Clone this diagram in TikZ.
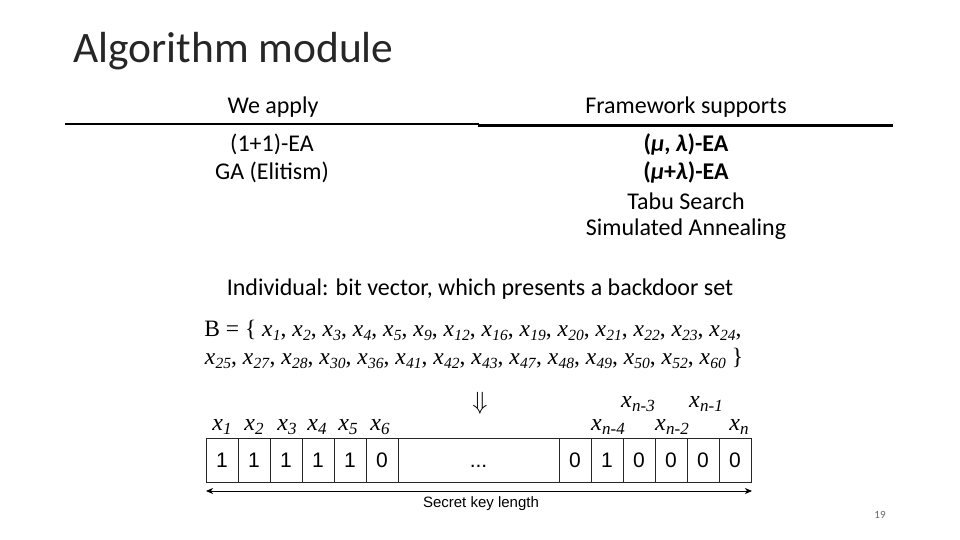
\documentclass[tikz,border=0pt]{standalone}
\usepackage{fontspec}
\setmainfont{Carlito}
\newfontfamily\tnr{Liberation Serif}
\newfontfamily\arl{Liberation Sans}
\usetikzlibrary{arrows.meta}
\newcommand\xsub[2]{\textit{x}\kern0.3pt\raisebox{-0.45ex}{\fontsize{#2}{#2}\selectfont\textit{#1}}}
\newcommand\bx[1]{\xsub{#1}{15.5}}
\newcommand\vx[1]{\xsub{#1}{17}}
\begin{document}
\begin{tikzpicture}[x=1pt,y=-1pt,
  hdr/.style={font=\fontsize{24}{28}\selectfont, inner sep=0pt, anchor=center},
  cell/.style={draw=black!85, line width=0.9pt, minimum width=32pt, minimum height=44pt, inner sep=0pt, text height=15pt, text depth=0pt, font=\arl\fontsize{21}{21}\selectfont},
  lab/.style={font=\tnr\fontsize{24}{24}\selectfont, inner sep=0pt, anchor=base},
  rule/.style={line width=2pt, black}]
\useasboundingbox[fill=white] (0,0) rectangle (960,540);

% title
\node[font=\fontsize{43.5}{46}\selectfont, text=black!85, anchor=base west, inner sep=0pt] (title) at (73,63) {Algorithm module};

% table
\node[hdr] (h1) at (273,107) {We apply};
\node[hdr] (h2) at (686,107) {Framework supports};
\coordinate (l1a) at (65,124.5);
\coordinate (l1b) at (479,124.5);
\coordinate (l2a) at (478,125.5);
\coordinate (l2b) at (893,125.5);
\draw[rule] (l1a) -- (l1b);
\draw[rule, line width=2.6pt] (l2a) -- (l2b);
\node[hdr] (a1) at (272,144) {(1+1)-EA};
\node[hdr] (a2) at (272,172) {GA (Elitism)};
\node[hdr] (b1) at (686,144) {\textbf{(\textit{μ}, \textit{λ})-EA}};
\node[hdr] (b2) at (686,172) {\textbf{(\textit{μ}+\textit{λ})-EA}};
\node[hdr] (b3) at (686,201) {Tabu Search};
\node[hdr] (b4) at (686,229) {Simulated Annealing};

% individual
\node[hdr] (ind) at (480,289) {Individual: bit vector, which presents a backdoor set};
\node[font=\tnr\fontsize{23.5}{23.5}\selectfont, inner sep=0pt, anchor=base] (bl1) at (473,336)
  {B = \{ \bx{1}, \bx{2}, \bx{3}, \bx{4}, \bx{5}, \bx{9}, \bx{12}, \bx{16}, \bx{19}, \bx{20}, \bx{21}, \bx{22}, \bx{23}, \bx{24},};
\node[font=\tnr\fontsize{23.5}{23.5}\selectfont, inner sep=0pt, anchor=base] (bl2) at (474,364)
  {\bx{25}, \bx{27}, \bx{28}, \bx{30}, \bx{36}, \bx{41}, \bx{42}, \bx{43}, \bx{47}, \bx{48}, \bx{49}, \bx{50}, \bx{52}, \bx{60} \}};

\node[font=\fontsize{24}{24}\selectfont, inner sep=0pt] (down) at (480,403) {$\Downarrow$};

% bit vector
\node[cell] (c1) at (222,460) {1};
\node[cell] (c2) at (254,460) {1};
\node[cell] (c3) at (286,460) {1};
\node[cell] (c4) at (318,460) {1};
\node[cell] (c5) at (350,460) {1};
\node[cell] (c6) at (382,460) {0};
\node[cell, minimum width=161pt] (cd) at (478.5,460) {...};
\node[cell] (r1) at (575,460) {0};
\node[cell] (r2) at (607,460) {1};
\node[cell] (r3) at (639,460) {0};
\node[cell] (r4) at (671,460) {0};
\node[cell] (r5) at (703,460) {0};
\node[cell] (r6) at (735,460) {0};

\node[lab] (x1) at (222,430) {\vx{1}};
\node[lab] (x2) at (254,430) {\vx{2}};
\node[lab] (x3) at (287,430) {\vx{3}};
\node[lab] (x4) at (317,430) {\vx{4}};
\node[lab] (x5) at (348,430) {\vx{5}};
\node[lab] (x6) at (380,430) {\vx{6}};
\node[lab] (xn4) at (608,430) {\vx{n-4}};
\node[lab] (xn3) at (638,407) {\vx{n-3}};
\node[lab] (xn2) at (672,430) {\vx{n-2}};
\node[lab] (xn1) at (706,407) {\vx{n-1}};
\node[lab] (xn) at (739,430) {\vx{n}};

\coordinate (al) at (206,491);
\coordinate (ar) at (752,491);
\draw[line width=0.9pt, {Stealth[length=7pt,width=6pt,inset=2pt]}-{Stealth[length=7pt,width=6pt,inset=2pt]}] (al) -- (ar);
\node[font=\arl\fontsize{15}{15}\selectfont, inner sep=0pt] (skl) at (481,504) {Secret key length};

\node[font=\fontsize{11}{11}\selectfont, text=black!60, inner sep=0pt] (pg) at (880,515) {19};
\end{tikzpicture}
\end{document}
